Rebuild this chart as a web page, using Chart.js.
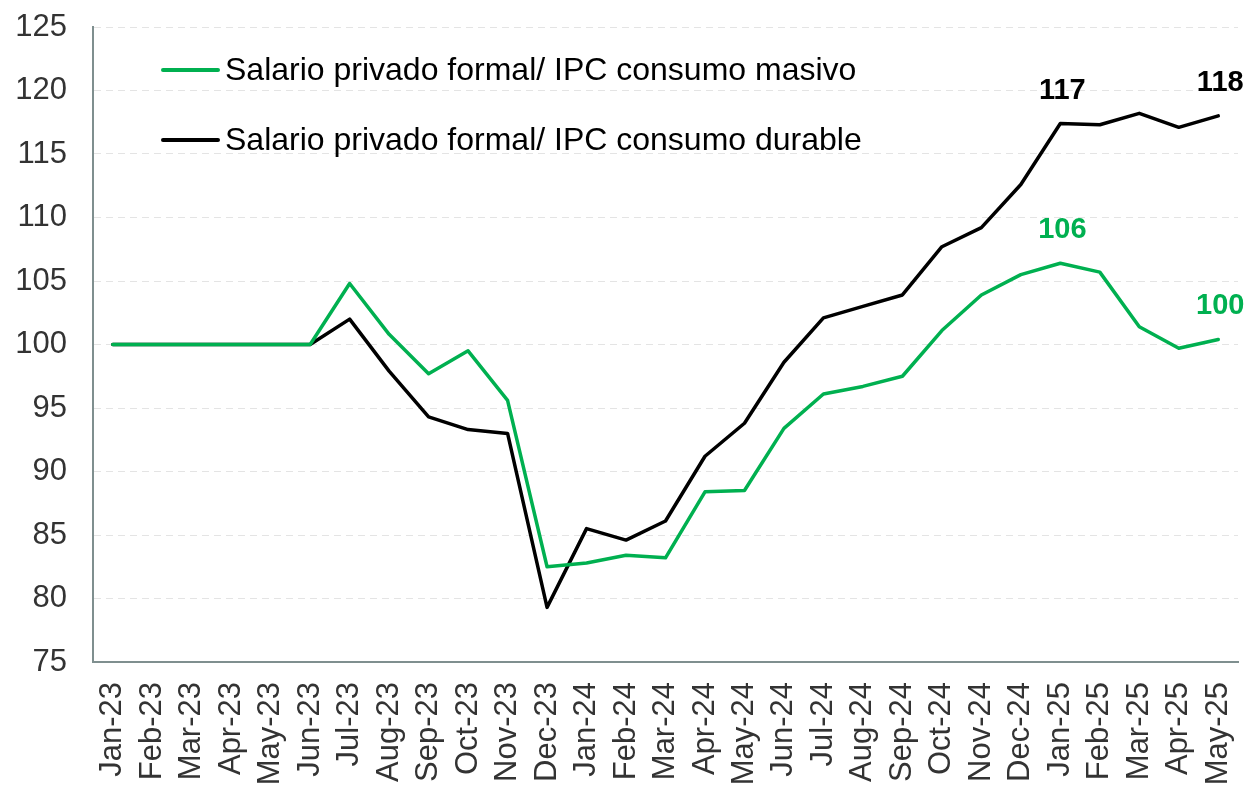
<!DOCTYPE html>
<html>
<head>
<meta charset="utf-8">
<script src="https://cdn.jsdelivr.net/npm/chart.js@4.4.1/dist/chart.umd.min.js"></script>
<style>
  html, body { margin: 0; padding: 0; background: #fff; }
  #wrap { width: 1245px; height: 807px; }
</style>
</head>
<body>
<div id="wrap"><canvas id="grafica" width="1245" height="807"></canvas></div>
<script>
// Salario privado formal deflactado por IPC (base ene-23 = 100)
const meses = ['Jan-23', 'Feb-23', 'Mar-23', 'Apr-23', 'May-23', 'Jun-23', 'Jul-23', 'Aug-23', 'Sep-23', 'Oct-23',
  'Nov-23', 'Dec-23', 'Jan-24', 'Feb-24', 'Mar-24', 'Apr-24', 'May-24', 'Jun-24', 'Jul-24', 'Aug-24',
  'Sep-24', 'Oct-24', 'Nov-24', 'Dec-24', 'Jan-25', 'Feb-25', 'Mar-25', 'Apr-25', 'May-25'];

const masivo = [100, 100, 100, 100, 100, 100, 104.8, 100.8, 97.7, 99.5,
  95.6, 82.5, 82.8, 83.4, 83.2, 88.4, 88.5, 93.4, 96.1, 96.7,
  97.5, 101.1, 103.9, 105.5, 106.4, 105.7, 101.4, 99.7, 100.4];

const durable = [100, 100, 100, 100, 100, 100, 102.0, 97.9, 94.3, 93.3,
  93.0, 79.3, 85.5, 84.6, 86.1, 91.2, 93.8, 98.6, 102.1, 103.0,
  103.9, 107.7, 109.2, 112.6, 117.4, 117.3, 118.2, 117.1, 118.0];

const nombres = ['Salario privado formal/ IPC consumo masivo', 'Salario privado formal/ IPC consumo durable'];
const colores = ['#00b050', '#000000'];

// etiquetas que se muestran (indice de mes)
const etiquetados = [24, 28];

const fuente = "'Liberation Sans', Arial, sans-serif";

// leyenda dentro del area del grafico
const leyendaPlugin = {
  id: 'leyendaInterna',
  afterDraw(chart) {
    const ctx = chart.ctx;
    const area = chart.chartArea;
    ctx.save();
    chart.data.datasets.forEach((ds, i) => {
      const y = area.top + 43 + i * 70;
      const x0 = area.left + 70;
      ctx.strokeStyle = ds.borderColor;
      ctx.lineWidth = 4;
      ctx.lineCap = 'round';
      ctx.beginPath();
      ctx.moveTo(x0, y);
      ctx.lineTo(x0 + 55, y);
      ctx.stroke();
      ctx.fillStyle = '#000';
      ctx.font = '32px ' + fuente;
      ctx.textBaseline = 'middle';
      ctx.textAlign = 'left';
      ctx.fillText(ds.label, x0 + 62, y + 1);
    });
    ctx.restore();
  }
};

// valores destacados sobre los puntos
const etiquetasPlugin = {
  id: 'etiquetasDatos',
  afterDatasetsDraw(chart) {
    const ctx = chart.ctx;
    ctx.save();
    ctx.font = 'bold 29px ' + fuente;
    ctx.textAlign = 'center';
    ctx.textBaseline = 'middle';
    chart.data.datasets.forEach((ds, i) => {
      const meta = chart.getDatasetMeta(i);
      etiquetados.forEach(idx => {
        const p = meta.data[idx];
        ctx.fillStyle = ds.borderColor;
        ctx.fillText(Math.round(ds.data[idx]), p.x + 2, p.y - 33);
      });
    });
    ctx.restore();
  }
};

const graph = document.querySelector('#grafica');

const data = {
  labels: meses,
  datasets: [
    { label: nombres[0], data: masivo, borderColor: colores[0], backgroundColor: colores[0] },
    { label: nombres[1], data: durable, borderColor: colores[1], backgroundColor: colores[1] }
  ]
};

const config = {
  type: 'line',
  data: data,
  options: {
    responsive: false,
    animation: false,
    layout: { padding: { top: 27, right: 7, left: 0, bottom: 0 } },
    elements: {
      line: { borderWidth: 3.5, tension: 0, borderJoinStyle: 'round', borderCapStyle: 'round' },
      point: { radius: 0 }
    },
    plugins: {
      legend: { display: false },
      tooltip: { enabled: false }
    },
    scales: {
      x: {
        offset: true,
        grid: { display: false, drawTicks: false },
        border: { display: true, color: '#7f8f8f', width: 2 },
        ticks: {
          color: '#333333',
          font: { family: fuente, size: 31 },
          minRotation: 90,
          maxRotation: 90,
          padding: 20,
          autoSkip: false
        },
        afterFit(scale) {
          scale.height = 145;
          scale.paddingLeft = 0;
          scale.paddingRight = 0;
        }
      },
      y: {
        min: 75,
        max: 125,
        grid: { color: '#e4e4e4', lineWidth: 1, drawTicks: false },
        border: { display: true, color: '#7f8f8f', width: 2, dash: [7, 5] },
        ticks: {
          stepSize: 5,
          color: '#333333',
          font: { family: fuente, size: 31 },
          padding: 26
        },
        afterFit(scale) {
          scale.width = 93;
          scale.paddingTop = 0;
          scale.paddingBottom = 0;
        }
      }
    }
  },
  plugins: [leyendaPlugin, etiquetasPlugin]
};

new Chart(graph, config);
</script>
</body>
</html>
